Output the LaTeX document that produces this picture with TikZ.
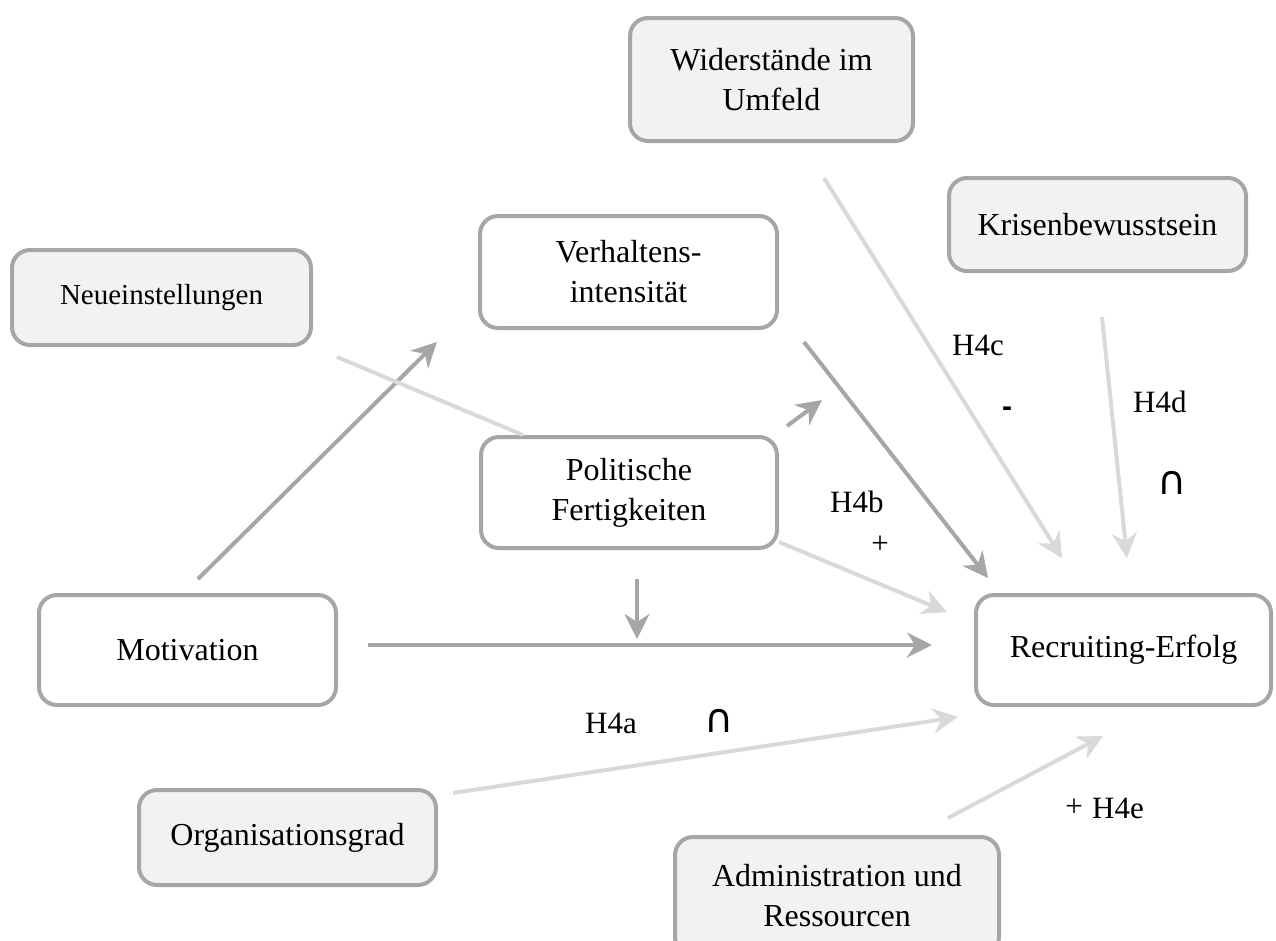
\documentclass[tikz,border=0pt]{standalone}
\usepackage{fontspec}
\setmainfont{Liberation Serif}
\newfontfamily\symf{DejaVu Sans}
\newfontfamily\sansf{Liberation Sans}
\usetikzlibrary{arrows.meta}
\definecolor{dk}{HTML}{A6A6A6}
\definecolor{lt}{HTML}{D9D9D9}
\definecolor{bx}{HTML}{F2F2F2}
\begin{document}
\begin{tikzpicture}[x=1pt,y=-1pt,
  box/.style={draw=dk, line width=4pt, rounded corners=18pt, align=center, inner sep=0pt, font=\fontsize{32}{40}\selectfont},
  gbox/.style={box, fill=bx},
  wbox/.style={box, fill=white},
  tipx/.tip={Stealth[length=25pt,width=25pt,inset=8pt]},
  darr/.style={draw=dk, line width=4pt, -tipx},
  larr/.style={draw=lt, line width=4pt, -tipx},
  lline/.style={draw=lt, line width=4pt},
  lbl/.style={font=\fontsize{31}{36}\selectfont, inner sep=0pt, anchor=base west},
  sym/.style={font=\symf\fontsize{40}{44}\selectfont, inner sep=0pt}]
\useasboundingbox (0,0) rectangle (1276,940);
\clip (0,0) rectangle (1276,940);

% boxes
\node[gbox, minimum width=283pt, minimum height=123pt] (wid) at (771.5,79.5) {Widerst\"ande im\\Umfeld};
\node[gbox, minimum width=297pt, minimum height=93pt] (kri) at (1097.5,224.5) {Krisenbewusstsein};
\node[gbox, minimum width=299pt, minimum height=95pt, font=\fontsize{29}{36}\selectfont] (neu) at (161.5,297.5) {Neueinstellungen};
\node[wbox, minimum width=297pt, minimum height=112pt] (ver) at (628.5,272) {Verhaltens-\\intensit\"at};
\node[wbox, minimum width=296pt, minimum height=111pt] (pol) at (629,492.5) {Politische\\Fertigkeiten};
\node[wbox, minimum width=297pt, minimum height=110pt] (mot) at (187.5,650) {Motivation};
\node[wbox, minimum width=295pt, minimum height=110pt] (rec) at (1123.5,650) {Recruiting-Erfolg};
\node[gbox, minimum width=297pt, minimum height=95pt] (org) at (287.5,837.5) {Organisationsgrad};
\node[gbox, minimum width=324pt, minimum height=118pt] (adm) at (837,896) {Administration und\\Ressourcen};

% connector end points
\coordinate (a1s) at (198,579);  \coordinate (a1e) at (437,342);
\coordinate (a2s) at (337,357);  \coordinate (a2e) at (523,435);
\coordinate (a3s) at (787,426);  \coordinate (a3e) at (822,400);
\coordinate (a4s) at (804,342);  \coordinate (a4e) at (988,578);
\coordinate (a5s) at (779,542);  \coordinate (a5e) at (947,612);
\coordinate (a6s) at (637,579);  \coordinate (a6e) at (637,639);
\coordinate (a7s) at (368,645);  \coordinate (a7e) at (932,645);
\coordinate (a8s) at (453,793);  \coordinate (a8e) at (958,717);
\coordinate (a9s) at (948,818);  \coordinate (a9e) at (1103,736);
\coordinate (a10s) at (824,178); \coordinate (a10e) at (1062,558);
\coordinate (a11s) at (1102,317); \coordinate (a11e) at (1127,558);

% connectors
\draw[darr] (a1s) -- (a1e);
\draw[lline] (a2s) -- (a2e);
\draw[darr] (a3s) -- (a3e);
\draw[darr] (a4s) -- (a4e);
\draw[larr] (a5s) -- (a5e);
\draw[darr] (a6s) -- (a6e);
\draw[darr] (a7s) -- (a7e);
\draw[larr] (a8s) -- (a8e);
\draw[larr] (a9s) -- (a9e);
\draw[larr] (a10s) -- (a10e);
\draw[larr] (a11s) -- (a11e);

% labels
\node[lbl] (h4c) at (952,355) {H4c};
\node[font=\sansf\bfseries\fontsize{30}{30}\selectfont, inner sep=0pt] (mc) at (1007,412) {-};
\node[lbl] (h4d) at (1133,412) {H4d};
\node[sym] (cd) at (1172,483) {∩};
\node[lbl] (h4b) at (830,512) {H4b};
\node[font=\fontsize{31}{36}\selectfont, inner sep=0pt] (pb) at (880,545) {+};
\node[lbl] (h4a) at (585,733) {H4a};
\node[sym] (ca) at (719,721) {∩};
\node[font=\fontsize{31}{36}\selectfont, inner sep=0pt] (pe) at (1074,808) {+};
\node[lbl] (h4e) at (1092,818) {H4e};
\end{tikzpicture}
\end{document}
